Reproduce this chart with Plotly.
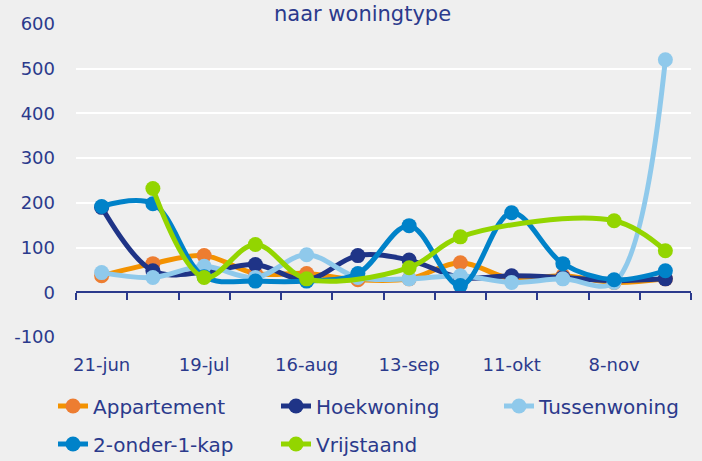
import plotly.graph_objects as go

# Two-weekly reporting dates
dates = ["21-jun", "5-jul", "19-jul", "2-aug", "16-aug", "30-aug",
         "13-sep", "27-sep", "11-okt", "25-okt", "8-nov", "22-nov"]
tick_labels = ["21-jun", "19-jul", "16-aug", "13-sep", "11-okt", "8-nov"]
y_ticks = [-100, 0, 100, 200, 300, 400, 500, 600]

appartement = [37, 64, 82, 42, 42, 28, 30, 66, 30, 37, 22, 30]
hoekwoning = [190, 48, 45, 62, 28, 82, 72, 33, 37, 33, 26, 30]
tussenwoning = [44, 33, 58, 33, 84, 33, 30, 37, 22, 30, 22, 520]
twee_onder_een_kap = [192, 198, 35, 25, 25, 42, 149, 15, 178, 64, 28, 48]
vrijstaand = [None, 232, 33, 107, 30, None, 55, 124, None, None, 160, 93]

# (name, values, line colour, marker colour, legend row)
series = [
    ("Appartement", appartement, "#F39200", "#ED7D31", "legend"),
    ("Hoekwoning", hoekwoning, "#1F3487", "#1F3487", "legend"),
    ("Tussenwoning", tussenwoning, "#8FC9EB", "#8FC9EB", "legend"),
    ("2-onder-1-kap", twee_onder_een_kap, "#0082C9", "#0082C9", "legend2"),
    ("Vrijstaand", vrijstaand, "#93D500", "#93D500", "legend2"),
]

text_color = "#2B3A8C"
font_family = "DejaVu Sans"

fig = go.Figure()
idx = list(range(len(dates)))
for name, values, line_color, marker_color, legend_id in series:
    fig.add_trace(go.Scatter(
        x=idx, y=values, name=name,
        mode="lines+markers",
        line=dict(color=line_color, width=5, shape="spline", smoothing=1),
        marker=dict(color=marker_color, size=15),
        connectgaps=True,
        legend=legend_id,
        hoverinfo="skip",
    ))

# empty trace that carries the category axis drawn along y = 0
fig.add_trace(go.Scatter(
    x=idx, y=[None] * len(idx), xaxis="x2", yaxis="y",
    showlegend=False, hoverinfo="skip",
))

tick_positions = [dates.index(t) for t in tick_labels]
boundaries = [i - 0.5 for i in range(len(dates) + 1)]

legend_common = dict(
    orientation="h",
    x=-0.0374, xanchor="left", yanchor="middle",
    entrywidth=178, entrywidthmode="pixels",
    font=dict(size=20, color=text_color, family=font_family),
    bgcolor="rgba(0,0,0,0)",
)

fig.update_layout(
    width=702, height=461,
    margin=dict(l=76, r=11, t=24, b=124, autoexpand=False),
    paper_bgcolor="#EFEFEF",
    plot_bgcolor="#EFEFEF",
    font=dict(family=font_family, color=text_color, size=18),
    showlegend=True,
    legend=dict(y=-0.2204, **legend_common),
    legend2=dict(y=-0.3419, **legend_common),
    xaxis=dict(
        range=[-0.5, len(dates) - 0.5],
        tickvals=tick_positions, ticktext=tick_labels,
        showgrid=False, zeroline=False, showline=False,
        ticks="", ticklabelstandoff=15,
        tickfont=dict(size=18, color=text_color),
    ),
    xaxis2=dict(
        overlaying="x", anchor="free", position=1 / 7,
        range=[-0.5, len(dates) - 0.5],
        tickvals=boundaries, showticklabels=False,
        ticks="outside", ticklen=7, tickwidth=2, tickcolor=text_color,
        showline=True, linecolor=text_color, linewidth=2,
        showgrid=False, zeroline=False,
    ),
    yaxis=dict(
        range=[-100, 600],
        tickvals=y_ticks, ticktext=[str(v) for v in y_ticks],
        showgrid=True, gridcolor="white", gridwidth=2,
        zeroline=False, showline=False,
        ticklabelstandoff=20,
        tickfont=dict(size=18, color=text_color),
    ),
    annotations=[dict(
        text="naar woningtype", xref="paper", yref="paper",
        x=0.466, y=1.0, xanchor="center", yanchor="bottom",
        yshift=-4,
        showarrow=False, font=dict(size=21, color=text_color),
    )],
)

fig.write_html("out.html")
